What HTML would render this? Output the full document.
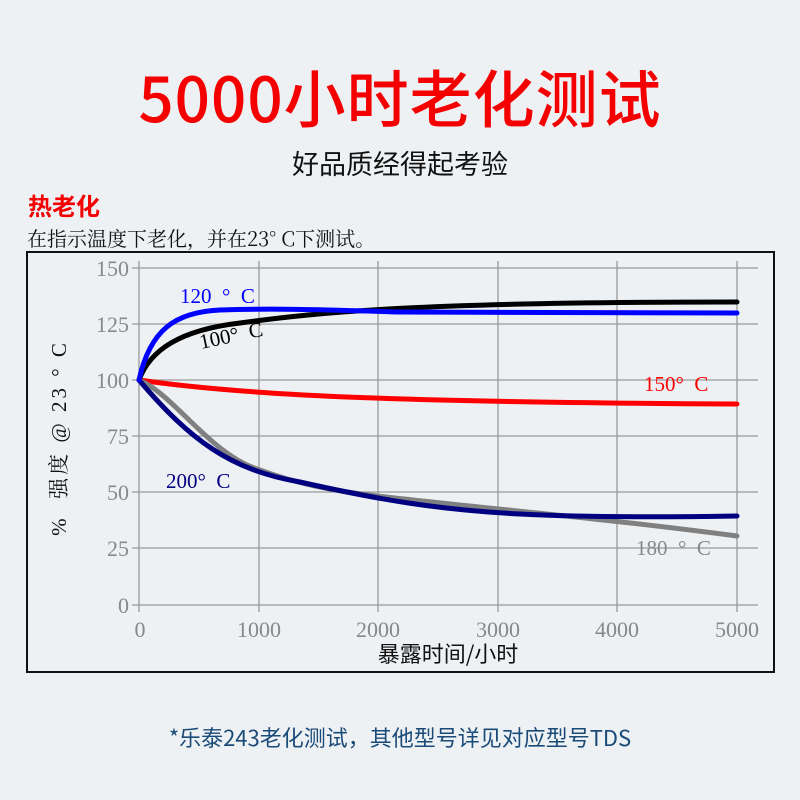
<!DOCTYPE html>
<html><head><meta charset="utf-8"><style>
body{margin:0;width:800px;height:800px;background:#eef1f4;overflow:hidden;position:relative;font-family:"Noto Sans CJK SC",sans-serif}
.t{position:absolute;left:0;width:800px;text-align:center}
</style></head><body>
<div class="t" style="top:52px;font-size:62px;font-weight:500;color:#f40000;line-height:86px;letter-spacing:1px">5000小时老化测试</div>
<div class="t" style="top:143px;font-size:27px;color:#111;line-height:40px">好品质经得起考验</div>
<div style="position:absolute;left:28px;top:188px;font-size:24px;font-weight:bold;color:#f40000;line-height:34px">热老化</div>
<div style="position:absolute;left:27px;top:224px;font-size:20px;color:#111;line-height:28px;font-family:'Noto Serif CJK SC',serif">在指示温度下老化，并在23° C下测试。</div>
<svg style="position:absolute;left:0;top:0" width="800" height="800" font-family="Liberation Serif, Noto Serif CJK SC, serif">
<rect x="27" y="252" width="747" height="420" fill="none" stroke="#111" stroke-width="2"/>
<g stroke="#999" stroke-width="1.3">
<line x1="132" y1="268" x2="758" y2="268"/><line x1="132" y1="324" x2="758" y2="324"/><line x1="132" y1="380" x2="758" y2="380"/><line x1="132" y1="436" x2="758" y2="436"/><line x1="132" y1="492" x2="758" y2="492"/><line x1="132" y1="548" x2="758" y2="548"/><line x1="132" y1="605" x2="758" y2="605"/>
<line x1="139" y1="261" x2="139" y2="612"/><line x1="259" y1="261" x2="259" y2="612"/><line x1="378" y1="261" x2="378" y2="612"/><line x1="498" y1="261" x2="498" y2="612"/><line x1="617" y1="261" x2="617" y2="612"/><line x1="737" y1="261" x2="737" y2="612"/>
</g>
<g fill="#888" font-size="22" text-anchor="end">
<text x="129" y="276">150</text><text x="129" y="332">125</text><text x="129" y="388">100</text><text x="129" y="444">75</text><text x="129" y="500">50</text><text x="129" y="556">25</text><text x="129" y="613">0</text>
</g>
<g fill="#888" font-size="22" text-anchor="middle">
<text x="140" y="637">0</text><text x="259" y="637">1000</text><text x="378" y="637">2000</text><text x="498" y="637">3000</text><text x="617" y="637">4000</text><text x="737" y="637">5000</text>
</g>
<text x="448" y="662" font-size="22" text-anchor="middle" fill="#111" font-family="Noto Sans CJK SC, sans-serif">暴露时间/小时</text>
<text transform="translate(66,438) rotate(-90)" font-size="21" text-anchor="middle" fill="#111" letter-spacing="3" xml:space="preserve">%  强度 @ 23 ° C</text>
<g fill="none" stroke-width="5" stroke-linecap="round">
<path d="M139,380 C250,396 400,402 737,404" stroke="#ff0000"/>
<path d="M139,380 C175,395 210,455 260,470 C300,485 340,492 378,496 C500,510 600,518 737,536" stroke="#808080"/>
<path d="M139,380 C190,440 230,470 300,482 C380,500 440,510 520,514 C600,518 680,517 737,516" stroke="#000080"/>
<path d="M139,380 C150,350 180,330 240,323 C320,312 420,302 737,302" stroke="#000"/>
<path d="M139,380 C150,330 175,312 220,310 C280,308 330,310 400,312 C500,313 600,313 737,313" stroke="#0000ff"/>
</g>
<text x="180" y="303" font-size="21" fill="#0000ff" xml:space="preserve">120  °  C</text>
<text x="201" y="349" font-size="21" fill="#000" transform="rotate(-12,201,349)" xml:space="preserve">100°  C</text>
<text x="644" y="391" font-size="21" fill="#ff0000" xml:space="preserve">150°  C</text>
<text x="166" y="488" font-size="21" fill="#000080" xml:space="preserve">200°  C</text>
<text x="636" y="555" font-size="21" fill="#888" xml:space="preserve">180  °  C</text>
</svg>
<div class="t" style="top:720px;font-size:22px;color:#1a4a78;line-height:34px">*乐泰243老化测试，其他型号详见对应型号TDS</div>
</body></html>
